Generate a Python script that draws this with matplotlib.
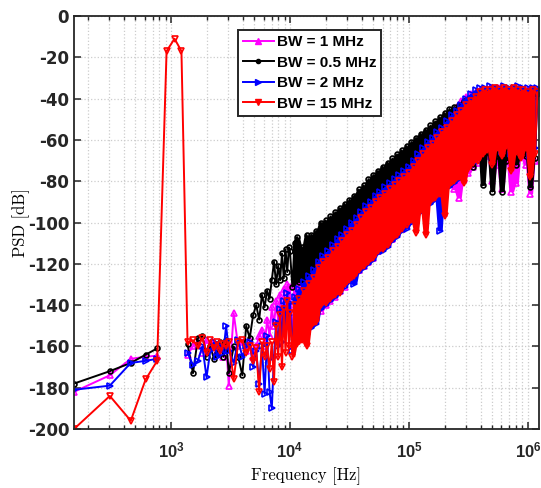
#!/usr/bin/env python3
"""PSD of the received signal for several bandwidths (log frequency axis)."""
import numpy as np
import matplotlib
matplotlib.use("Agg")
import matplotlib.pyplot as plt
from matplotlib.lines import Line2D
from matplotlib.ticker import NullFormatter, LogLocator

plt.rcParams['axes.unicode_minus'] = False
plt.rcParams['mathtext.fontset'] = 'custom'
plt.rcParams['mathtext.bf'] = 'Liberation Sans:bold'
plt.rcParams['mathtext.rm'] = 'Liberation Sans:bold'

nan = np.nan

# frequency bins (Hz)
freq_low = [153, 306, 459, 612, 765, 918, 1071, 1224]
freq_mid = [1377, 1530, 1683, 1836, 1989, 2142, 2295, 2448, 2601, 2754, 2907, 3060,
            3366, 3672, 3978, 4284, 4590, 4896, 5202, 5508, 5814, 6120, 6426, 6732,
            7038, 7344, 7650, 7956, 8262, 8568, 8874, 9180, 9486, 9792]
freq_high = [10000, 10470, 10960, 11480, 12020, 12590, 13180, 13800, 14450, 15140,
             15850, 16600, 17380, 18200, 19050, 19950, 20890, 21880, 22910, 23990,
             25120, 26300, 27540, 28840, 30200, 31620, 33110, 34670, 36310, 38020,
             39810, 41690, 43650, 45710, 47860, 50120, 52480, 54950, 57540, 60260,
             63100, 66070, 69180, 72440, 75860, 79430, 83180, 87100, 91200, 95500,
             100000, 104700, 109600, 114800, 120200, 125900, 131800, 138000, 144500, 151400,
             158500, 166000, 173800, 182000, 190500, 199500, 208900, 218800, 229100, 239900,
             251200, 263000, 275400, 288400, 302000, 316200, 331100, 346700, 363100, 380200,
             398100, 416900, 436500, 457100, 478600, 501200, 524800, 549500, 575400, 602600,
             631000, 660700, 691800, 724400, 758600, 794300, 831800, 871000, 912000, 955000,
             1000000, 1047000, 1096000, 1148000, 1202000]
freq = freq_low + freq_mid + freq_high

# PSD values (dB) per bandwidth
psd_1mhz = ([-182, -174, -166, -165, -164.5, nan, nan, nan] +
            [-164, -160, -158, -163, -157, -160, -158, -162, -160, -165, -158, -179,
             -144, -160, -158, -162, -157, -165, -160, -155, -152, -160, -147, -155,
             -141, -150, -138, -148, -135, -153, -132, -145, -130, -140] +
            [-131, -160, -128, -155, -126, -153, -124, -150, -122, -147,
             -119, -146, -117, -143, -115, -140, -113, -138, -111, -136,
             -108, -133, -106, -131, -104, -128, -101, -126, -99, -123,
             -96, -121, -94, -119, -91, -117, -89, -114, -86, -112,
             -84, -110, -82, -108, -80, -105, -78, -103, -76, -100,
             -73, -98, -71, -96, -68, -94, -66, -91, -63, -89,
             -60, -87, -58, -85, -55, -83, -52, -81, -48, -84,
             -44, -88, -41, -79, -39, -76, -38, -73, -37, -71,
             -36, -70, -36, -68, -35, -80, -35, -72, -35, -84,
             -35, -70, -36, -85, -35, -81, -36, -68, -36, -72,
             -36, -86, -36, -70, -37])

psd_05mhz = ([-178, -172, -168, -164, -161, nan, nan, nan] +
             [-159, -173, -156, -155, -165, -160, -166, -163, -158, -165, -157, -173,
              -160, -165, -174, -150, -156, -145, -140, -147, -135, -141, -133, -137,
              -128, -119, -130, -121, -128, -115, -127, -113, -124, -112] +
             [-114, -131, -110, -107, -129, -112, -130, -106, -126, -106,
              -124, -104, -124, -100, -121, -99, -120, -97, -118, -95,
              -116, -93, -114, -91, -111, -89, -109, -87, -107, -84,
              -105, -82, -103, -79, -100, -77, -98, -75, -96, -73,
              -94, -71, -92, -69, -90, -67, -88, -65, -86, -63,
              -84, -61, -82, -59, -80, -57, -78, -55, -76, -53,
              -74, -51, -72, -49, -70, -47, -68, -45, -66, -44,
              -64, -43, -62, -41, -60, -40, -58, -73, -39, -62,
              -38, -82, -38, -66, -38, -85, -38, -68, -38, -85,
              -38, -70, -38, -66, -38, -72, -38, -67, -38, -68,
              -38, -83, -38, -69, -38])

psd_2mhz = ([-181, -179, -168, -167, -166, nan, nan, nan] +
            [-163, -169, -167, -160, -175, -162, -158, -165, -160, -163, -150, -162,
             -168, -157, -165, -160, -158, -170, -162, -178, -160, -183, -155, -182,
             -190, -165, -148, -160, -142, -158, -138, -150, -134, -145] +
            [-139, -162, -136, -158, -132, -156, -129, -154, -126, -151,
             -123, -149, -119, -142, -116, -140, -114, -138, -111, -136,
             -108, -134, -106, -131, -103, -129, -100, -130, -98, -124,
             -95, -122, -92, -120, -90, -118, -87, -115, -85, -114,
             -83, -112, -81, -109, -79, -107, -77, -104, -75, -103,
             -73, -100, -70, -98, -67, -95, -64, -93, -61, -91,
             -59, -89, -56, -104, -54, -85, -51, -83, -48, -81,
             -46, -79, -43, -76, -40, -73, -38, -71, -36, -68,
             -35, -66, -35, -62, -34, -64, -35, -61, -35, -66,
             -34, -63, -35, -67, -35, -60, -34, -65, -35, -62,
             -35, -68, -35, -64, -35])

psd_15mhz = ([-200, -184, -196, -176, -167, -17, -11, -17] +
             [-158, -157, -160, -156, -163, -157, -161, -158, -162, -159, -160, -158,
              -176, -158, -157, -163, -160, -167, -161, -182, -158, -165, -160, -171,
              -158, -177, -150, -165, -145, -170, -142, -163, -138, -160] +
             [-144, -165, -140, -159, -137, -157, -133, -160, -130, -150,
              -127, -148, -122, -140, -119, -139, -117, -137, -114, -135,
              -112, -134, -109, -130, -106, -128, -104, -126, -101, -123,
              -98, -121, -95, -119, -93, -117, -90, -114, -88, -113,
              -86, -111, -84, -108, -82, -106, -80, -103, -78, -101,
              -76, -99, -73, -105, -70, -94, -67, -106, -64, -90,
              -62, -88, -59, -86, -56, -97, -54, -82, -51, -80,
              -48, -78, -46, -81, -43, -74, -41, -71, -39, -70,
              -37, -67, -36, -65, -36, -72, -35, -64, -36, -68,
              -35, -63, -36, -75, -35, -66, -36, -69, -36, -64,
              -37, -78, -36, -67, -37])

labels = ['BW = 1 MHz', 'BW = 0.5 MHz', 'BW = 2 MHz', 'BW = 15 MHz']
series = [psd_1mhz, psd_05mhz, psd_2mhz, psd_15mhz]
colors = ['#ff00ff', '#000000', '#0000ff', '#ff0000']
markers = ['^', 'o', '>', 'v']
msizes = [5, 3.5, 5, 5]

fig = plt.figure(figsize=(5.41, 4.88), dpi=100)
ax = fig.add_axes([0.1368, 0.1209, 0.8595, 0.8463])

n0 = len(freq_low) + len(freq_mid)
fh = np.array(freq_high, float)
z = 2
for vals, c, m, ms in zip(series, colors, markers, msizes):
    # the dense high-frequency trace covers the area between its
    # neighbouring extremes; fill that area so the band reads as solid
    v = np.array(vals[n0:], float)
    hi = np.fmax(np.fmax(v[:-2], v[1:-1]), v[2:])
    lo = np.fmin(np.fmin(v[:-2], v[1:-1]), v[2:])
    ax.fill_between(fh[1:-1], lo, hi, color=c, lw=0, zorder=z)
    ax.semilogx(freq, vals, color=c, lw=1.4, marker=m, ms=ms,
                mfc='none', mew=1.2, zorder=z + 0.5)
    z += 1

ax.set_xlim(153, 1.24e6)
ax.set_ylim(-200, 0)
ax.set_yticks(np.arange(-200, 1, 20))
ax.set_xticks([1e3, 1e4, 1e5, 1e6])
ax.set_xticklabels([r'$\mathbf{10^{3}}$', r'$\mathbf{10^{4}}$',
                    r'$\mathbf{10^{5}}$', r'$\mathbf{10^{6}}$'])
ax.xaxis.set_minor_locator(LogLocator(base=10, subs=np.arange(2, 10), numticks=20))
ax.xaxis.set_minor_formatter(NullFormatter())

for lab in ax.get_yticklabels():
    lab.set_fontweight('bold')
ax.tick_params(axis='both', which='major', labelsize=12, direction='in',
               length=5, width=1.1, top=True, right=True, colors='#262626')
ax.tick_params(axis='x', which='minor', direction='in', length=3, width=1.0,
               top=True, colors='#262626')
ax.tick_params(axis='x', which='major', pad=9)

for sp in ax.spines.values():
    sp.set_linewidth(1.3)
    sp.set_color('#262626')
    sp.set_zorder(10)

ax.grid(True, which='major', ls=':', lw=0.9, color='#cccccc')
ax.grid(True, which='minor', axis='x', ls=':', lw=0.9, color='#cccccc')
ax.set_axisbelow(True)

ax.set_xlabel('Frequency [Hz]', fontfamily='cmr10', fontsize=12, labelpad=4)
ax.set_ylabel('PSD [dB]', fontfamily='cmr10', fontsize=12, labelpad=-1.5)

handles = [Line2D([], [], color=c, lw=1.4, marker=m, ms=ms - 0.5)
           for c, m, ms in zip(colors, markers, msizes)]
leg = ax.legend(handles, labels, loc='upper left', bbox_to_anchor=(0.352, 0.966),
                borderaxespad=0, fancybox=False, framealpha=1, edgecolor='#262626',
                prop={'weight': 'bold', 'size': 11, 'family': 'Liberation Sans'},
                handlelength=2.0, handletextpad=0.2, labelspacing=0.42,
                borderpad=0.35)
leg.get_frame().set_linewidth(1.4)
leg.set_zorder(20)

fig.savefig('out.png', dpi=100)
